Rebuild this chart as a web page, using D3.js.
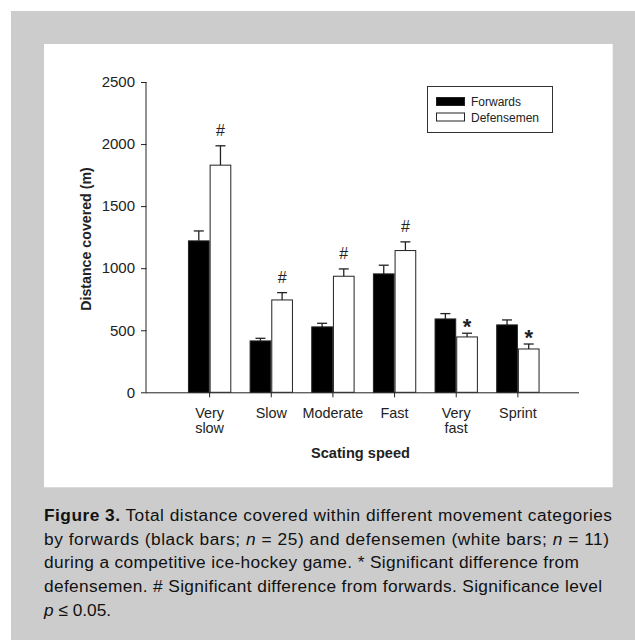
<!DOCTYPE html>
<html><head><meta charset="utf-8">
<script src="https://cdn.jsdelivr.net/npm/d3@7"></script>
<style>body{margin:0;background:#fff;}svg{display:block;}</style>
</head><body>
<script>
const categories = [["Very","slow"],["Slow"],["Moderate"],["Fast"],["Very","fast"],["Sprint"]];
const forwards = [1220, 414, 527, 954, 591, 543];
const forwardsErr = [80, 21, 29, 70, 43, 40];
const defensemen = [1830, 744, 935, 1142, 446, 349];
const defensemenErr = [156, 59, 59, 70, 30, 40];
const defMarks = ["#","#","#","#","*","*"];
const yTicks = [0, 500, 1000, 1500, 2000, 2500];
const captionLines = [
  [["Figure 3.", "b"], [" Total distance covered within different movement categories", ""]],
  [["by forwards (black bars; ", ""], ["n", "i"], [" = 25) and defensemen (white bars; ", ""], ["n", "i"], [" = 11)", ""]],
  [["during a competitive ice-hockey game. * Significant difference from", ""]],
  [["defensemen. # Significant difference from forwards. Significance level", ""]],
  [["p", "i"], [" \u2264 0.05.", ""]]
];
const captionWidths = [568, 565, 535, 558, 0];

const W = 635, H = 640;
const svg = d3.select("body").append("svg").attr("width", W).attr("height", H);
svg.append("rect").attr("x", 11).attr("y", 11).attr("width", W - 11).attr("height", H - 11).attr("fill", "#cccccc");
svg.append("rect").attr("x", 44).attr("y", 44).attr("width", 568.7).attr("height", 443.3).attr("fill", "#ffffff");

const font = "Liberation Sans, Arial, sans-serif";
const x0 = 146.5, x1 = 579, y0 = 392.3, yTop = 82;
const x = d3.scaleBand().domain(d3.range(categories.length)).range([148.5, x1]).paddingInner(0.297).paddingOuter(0.64);
const y = d3.scaleLinear().domain([0, 2500]).range([y0, yTop]);
const bw = x.bandwidth() / 2;

const g = svg.append("g");
// y axis
const yAxis = g.append("g").attr("transform", `translate(${x0},0)`)
  .call(d3.axisLeft(y).tickValues(yTicks).tickFormat(d3.format("d")).tickSize(5.5).tickPadding(6));
yAxis.select(".domain").attr("d", `M-0.5,${yTop}V${y0}`).attr("stroke", "#222");
yAxis.selectAll(".tick line").attr("stroke", "#222");
yAxis.selectAll("text").attr("font-family", font).attr("font-size", 15).attr("fill", "#222");

// x axis
const xAxis = g.append("g").attr("transform", `translate(0,${y0})`)
  .call(d3.axisBottom(d3.scaleLinear().domain([0,1]).range([x0, x1])).ticks(0).tickSize(0));
xAxis.select(".domain").attr("stroke", "#222").attr("d", `M${x0 - 0.5},0.5H${x1}`);
xAxis.selectAll(".tick").remove();
g.selectAll(".xtick").data(categories).enter().append("line")
  .attr("x1", (d,i) => x(i) + bw).attr("x2", (d,i) => x(i) + bw)
  .attr("y1", y0).attr("y2", y0 + 5).attr("stroke", "#222");
const xl = g.selectAll(".xlab").data(categories).enter().append("text")
  .attr("font-family", font).attr("font-size", 14.4).attr("fill", "#222").attr("text-anchor", "middle");
xl.each(function(d, i) {
  d3.select(this).selectAll("tspan").data(d).enter().append("tspan")
    .attr("x", x(i) + bw).attr("y", (t, j) => 417.7 + j * 15).text(t => t);
});

// bars
function drawSeries(vals, errs, offset, fill) {
  const s = g.append("g");
  s.selectAll("line.err").data(vals).enter().append("line")
    .attr("x1", (d,i) => x(i) + offset + bw/2).attr("x2", (d,i) => x(i) + offset + bw/2)
    .attr("y1", d => y(d)).attr("y2", (d,i) => y(d + errs[i])).attr("stroke", "#222").attr("stroke-width", 1.3);
  s.selectAll("line.cap").data(vals).enter().append("line")
    .attr("x1", (d,i) => x(i) + offset + bw/2 - 5).attr("x2", (d,i) => x(i) + offset + bw/2 + 5)
    .attr("y1", (d,i) => y(d + errs[i])).attr("y2", (d,i) => y(d + errs[i])).attr("stroke", "#222").attr("stroke-width", 1.3);
  s.selectAll("rect").data(vals).enter().append("rect")
    .attr("x", (d,i) => x(i) + offset + 0.5).attr("width", bw - 1)
    .attr("y", d => y(d)).attr("height", d => y0 - y(d))
    .attr("fill", fill).attr("stroke", "#222").attr("stroke-width", 1);
}
drawSeries(forwards, forwardsErr, 0, "#000");
drawSeries(defensemen, defensemenErr, bw, "#fff");

g.selectAll(".mark").data(defMarks).enter().append("text")
  .attr("x", (d,i) => x(i) + bw * 1.5)
  .attr("y", (d,i) => y(defensemen[i] + defensemenErr[i]) - (d === "*" ? -1 : 9.5))
  .attr("text-anchor", "middle").attr("font-family", font)
  .attr("font-size", d => d === "*" ? 22 : 16).attr("font-weight", d => d === "*" ? "bold" : "normal")
  .attr("fill", "#222").text(d => d);

// axis titles
g.append("text").attr("transform", `translate(91,239) rotate(-90)`).attr("text-anchor", "middle")
  .attr("font-family", font).attr("font-size", 14.2).attr("font-weight", "bold").attr("fill", "#222")
  .text("Distance covered (m)");
g.append("text").attr("x", 360.5).attr("y", 457.7).attr("text-anchor", "middle")
  .attr("font-family", font).attr("font-size", 14.6).attr("font-weight", "bold").attr("fill", "#222")
  .text("Scating speed");

// legend
const lg = g.append("g");
lg.append("rect").attr("x", 427.5).attr("y", 86.5).attr("width", 125).attr("height", 46).attr("fill", "#fff").attr("stroke", "#333");
const legendItems = [["Forwards", "#000"], ["Defensemen", "#fff"]];
legendItems.forEach((it, i) => {
  lg.append("rect").attr("x", 436.5).attr("y", 97.5 + i * 15.5).attr("width", 28).attr("height", 8)
    .attr("fill", it[1]).attr("stroke", "#222");
  lg.append("text").attr("x", 471).attr("y", 106 + i * 15.5).attr("font-family", font).attr("font-size", 12)
    .attr("fill", "#222").text(it[0]);
});

// caption
const cap = svg.append("g");
captionLines.forEach((line, i) => {
  const t = cap.append("text").attr("x", 44).attr("y", 520.7 + i * 23.8)
    .attr("font-family", font).attr("font-size", 17.3).attr("fill", "#111");
  line.forEach(seg => {
    t.append("tspan").text(seg[0])
      .attr("font-weight", seg[1] === "b" ? "bold" : "normal")
      .attr("font-style", seg[1] === "i" ? "italic" : "normal");
  });
  const target = captionWidths[i];
  if (target > 0) {
    const nat = t.node().getComputedTextLength();
    const n = line.map(s => s[0]).join("").length;
    t.attr("letter-spacing", ((target - nat) / (n - 1)).toFixed(3));
  }
});
</script>
</body></html>
